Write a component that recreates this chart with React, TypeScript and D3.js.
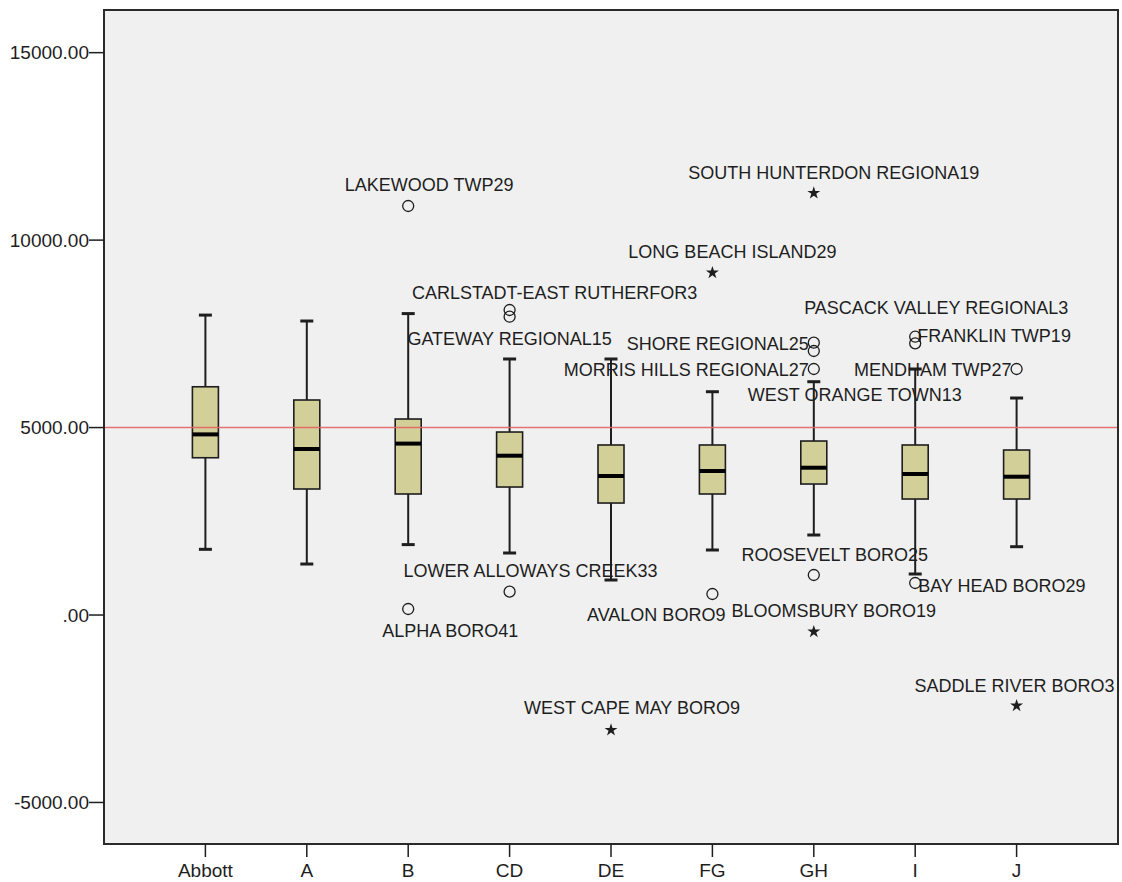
import React from "react";
import * as d3 from "d3";

// Per-group box statistics
const categories = ["Abbott", "A", "B", "CD", "DE", "FG", "GH", "I", "J"];
const whiskerLow = [1752, 1360, 1878, 1654, 934, 1734, 2134, 1094, 1822];
const q1 = [4195, 3361, 3228, 3414, 2987, 3228, 3494, 3094, 3094];
const medians = [4818, 4428, 4572, 4249, 3708, 3841, 3929, 3761, 3689];
const q3 = [6088, 5735, 5228, 4881, 4535, 4535, 4641, 4535, 4401];
const whiskerHigh = [8000, 7842, 8040, 6829, 6829, 5956, 6223, 6562, 5788];

// Outlying cases ("o" = outlier, "*" = extreme)
const outlierNames = [
  "LAKEWOOD TWP29",
  "ALPHA BORO41",
  "CARLSTADT-EAST RUTHERFOR3",
  "GATEWAY REGIONAL15",
  "LOWER ALLOWAYS CREEK33",
  "WEST CAPE MAY BORO9",
  "LONG BEACH ISLAND29",
  "AVALON BORO9",
  "SOUTH HUNTERDON REGIONA19",
  "SHORE REGIONAL25",
  "WEST ORANGE TOWN13",
  "MORRIS HILLS REGIONAL27",
  "ROOSEVELT BORO25",
  "BLOOMSBURY BORO19",
  "PASCACK VALLEY REGIONAL3",
  "FRANKLIN TWP19",
  "BAY HEAD BORO29",
  "MENDHAM TWP27",
  "SADDLE RIVER BORO3",
];
const outlierGroups = ["B", "B", "CD", "CD", "CD", "DE", "FG", "FG", "GH", "GH", "GH", "GH", "GH", "GH", "I", "I", "I", "J", "J"];
const outlierValues = [10910, 160, 8136, 7957, 622, -3067, 9131, 560, 11256, 7263, 7042, 6562, 1067, -445, 7423, 7247, 854, 6562, -2419];
const outlierKinds = ["o", "o", "o", "o", "o", "*", "*", "o", "*", "o", "o", "o", "o", "*", "o", "o", "o", "o", "*"];

const yTicks = [15000, 10000, 5000, 0, -5000];
const referenceValue = 5000;

// Label placement next to each case marker: [anchor, dx, dy(baseline)]
const labelPlacement: [string, number, number][] = [
  ["middle", 21, -15],
  ["middle", 42, 28],
  ["middle", 45, -11],
  ["middle", 0, 28],
  ["middle", 21, -15],
  ["middle", 21, -16],
  ["middle", 20, -15],
  ["end", 13, 27],
  ["middle", 20, -14],
  ["end", -5, 7],
  ["middle", 41, 50],
  ["end", -5, 7],
  ["middle", 21, -14],
  ["middle", 20, -15],
  ["middle", 21, -23],
  ["start", 2, -1],
  ["start", 3, 9],
  ["end", -5, 7],
  ["middle", -2, -14],
];

const FONT = "'Liberation Sans', Arial, sans-serif";
const INK = "#1e1e1e";

export default function App() {
  const width = 1122;
  const height = 882;
  const frame = { left: 104, right: 1118, top: 10, bottom: 844 };

  const x = d3
    .scalePoint<string>()
    .domain(categories)
    .range([frame.left, frame.right])
    .padding(1);
  const y = d3.scaleLinear().domain([-6108, 16138]).range([frame.bottom, frame.top]);

  // SPSS-style number format: ".00" for zero, hyphen for negatives
  const fmt = (v: number) => {
    const s = d3.format(".2f")(v).replace("\u2212", "-");
    return s.replace(/^0\./, ".");
  };

  const boxW = 26;
  const capW = 13;
  const star = d3.symbol().type(d3.symbolStar).size(52)() as string;

  return (
    <svg
      width={width}
      height={height}
      style={{ position: "absolute", left: 0, top: 0, background: "#ffffff" }}
    >
      <rect
        x={frame.left}
        y={frame.top}
        width={frame.right - frame.left}
        height={frame.bottom - frame.top}
        fill="#f0f0f0"
      />

      {/* boxes and whiskers */}
      {categories.map((c, i) => {
        const cx = x(c)!;
        return (
          <g key={c}>
            <line x1={cx} x2={cx} y1={y(whiskerHigh[i])} y2={y(q3[i])} stroke={INK} strokeWidth={2} />
            <line x1={cx} x2={cx} y1={y(q1[i])} y2={y(whiskerLow[i])} stroke={INK} strokeWidth={2} />
            <line x1={cx - capW / 2} x2={cx + capW / 2} y1={y(whiskerHigh[i])} y2={y(whiskerHigh[i])} stroke={INK} strokeWidth={3} />
            <line x1={cx - capW / 2} x2={cx + capW / 2} y1={y(whiskerLow[i])} y2={y(whiskerLow[i])} stroke={INK} strokeWidth={3} />
            <rect
              x={cx - boxW / 2}
              y={y(q3[i])}
              width={boxW}
              height={y(q1[i]) - y(q3[i])}
              fill="#d3cf99"
              stroke={INK}
              strokeWidth={1.6}
            />
            <line x1={cx - boxW / 2} x2={cx + boxW / 2} y1={y(medians[i])} y2={y(medians[i])} stroke="#000" strokeWidth={4} />
          </g>
        );
      })}

      {/* reference line */}
      <line
        x1={frame.left}
        x2={frame.right}
        y1={y(referenceValue)}
        y2={y(referenceValue)}
        stroke="#e46464"
        strokeWidth={1.6}
        opacity={0.9}
      />

      {/* outlying cases */}
      {outlierNames.map((name, i) => {
        const px = x(outlierGroups[i])!;
        const py = y(outlierValues[i]);
        const [anchor, dx, dy] = labelPlacement[i];
        return (
          <g key={name}>
            {outlierKinds[i] === "o" ? (
              <circle cx={px} cy={py} r={5.5} fill="none" stroke={INK} strokeWidth={1.3} />
            ) : (
              <path d={star} transform={`translate(${px},${py})`} fill={INK} />
            )}
            <text
              x={px + dx}
              y={py + dy}
              textAnchor={anchor as any}
              fontFamily={FONT}
              fontSize={18}
              fill={INK}
            >
              {name}
            </text>
          </g>
        );
      })}

      {/* frame */}
      <rect
        x={frame.left}
        y={frame.top}
        width={frame.right - frame.left}
        height={frame.bottom - frame.top}
        fill="none"
        stroke="#2a2a2a"
        strokeWidth={2}
      />

      {/* y axis */}
      {yTicks.map((t) => (
        <g key={t}>
          <line x1={frame.left - 15} x2={frame.left} y1={y(t)} y2={y(t)} stroke={INK} strokeWidth={1.5} />
          <text
            x={frame.left - 15}
            y={y(t) + 6.5}
            textAnchor="end"
            fontFamily={FONT}
            fontSize={19}
            fill={INK}
          >
            {fmt(t)}
          </text>
        </g>
      ))}

      {/* x axis */}
      {categories.map((c) => (
        <g key={c}>
          <line x1={x(c)!} x2={x(c)!} y1={frame.bottom} y2={frame.bottom + 13} stroke={INK} strokeWidth={1.5} />
          <text
            x={x(c)!}
            y={877}
            textAnchor="middle"
            fontFamily={FONT}
            fontSize={19}
            fill={INK}
          >
            {c}
          </text>
        </g>
      ))}
    </svg>
  );
}
